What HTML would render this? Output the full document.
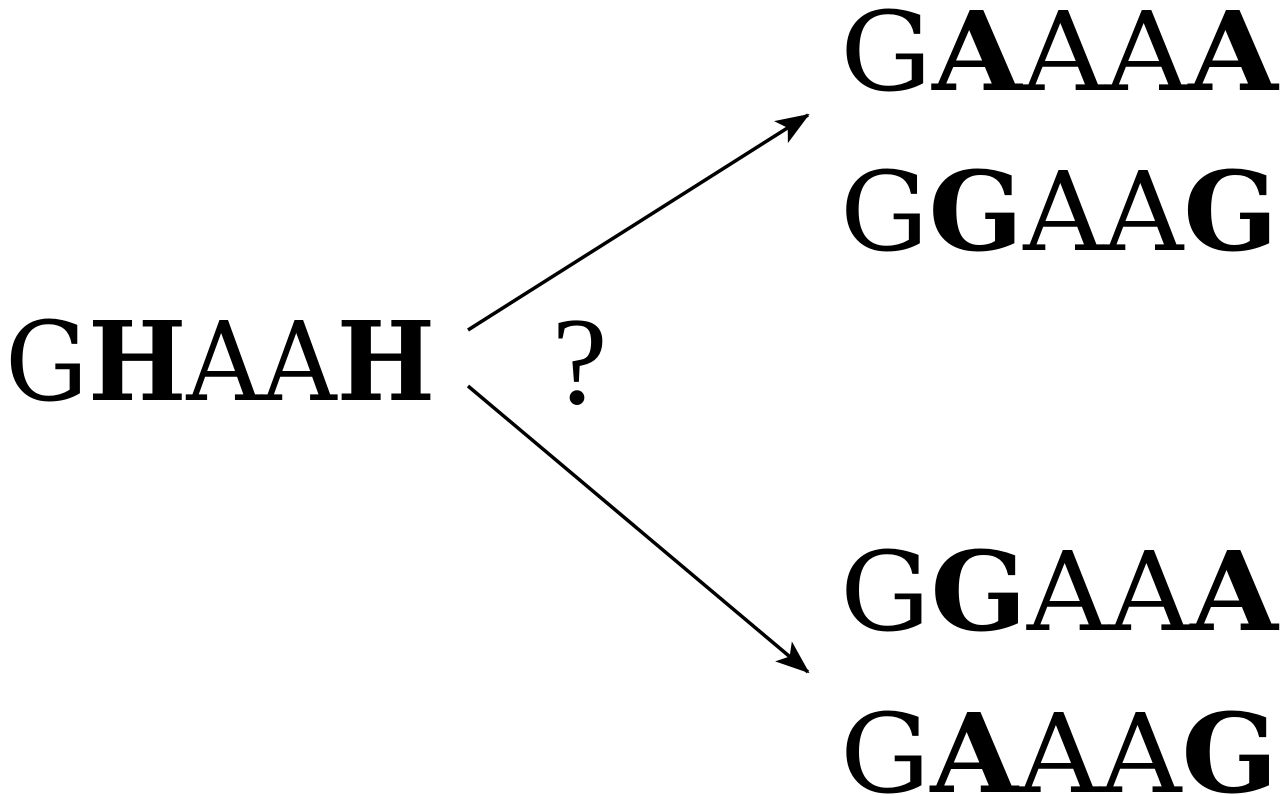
<!DOCTYPE html>
<html><head><meta charset="utf-8"><style>html,body{margin:0;padding:0;background:#fff;}svg{display:block}</style></head>
<body>
<svg width="1280" height="795" viewBox="0 0 1280 795" xmlns="http://www.w3.org/2000/svg">
<defs><marker id="ah" markerWidth="34" markerHeight="26" refX="32" refY="13" orient="auto" markerUnits="userSpaceOnUse"><path d="M0,0 L34,13 L0,26 L8,13 Z" fill="#000"/></marker></defs>
<g font-family="'DejaVu Serif','Liberation Serif',serif" font-size="110" fill="#000">
<text x="5" y="400" textLength="430" lengthAdjust="spacingAndGlyphs">G<tspan font-weight="bold">H</tspan><tspan font-weight="normal">AA</tspan><tspan font-weight="bold">H</tspan></text>
<text x="840" y="90" textLength="438" lengthAdjust="spacingAndGlyphs">G<tspan font-weight="bold">A</tspan><tspan font-weight="normal">AA</tspan><tspan font-weight="bold">A</tspan></text>
<text x="840" y="250" textLength="438" lengthAdjust="spacingAndGlyphs">G<tspan font-weight="bold">G</tspan><tspan font-weight="normal">AA</tspan><tspan font-weight="bold">G</tspan></text>
<text x="840" y="630" textLength="438" lengthAdjust="spacingAndGlyphs">G<tspan font-weight="bold">G</tspan><tspan font-weight="normal">AA</tspan><tspan font-weight="bold">A</tspan></text>
<text x="840" y="792" textLength="438" lengthAdjust="spacingAndGlyphs">G<tspan font-weight="bold">A</tspan><tspan font-weight="normal">AA</tspan><tspan font-weight="bold">G</tspan></text>
<text x="552" y="403" font-size="125" font-family="'Liberation Serif',serif">?</text>
</g>
<line x1="468" y1="330" x2="808" y2="115" stroke="#000" stroke-width="3.5" marker-end="url(#ah)"/>
<line x1="468" y1="386" x2="808" y2="672" stroke="#000" stroke-width="3.5" marker-end="url(#ah)"/>
</svg>
</body></html>
